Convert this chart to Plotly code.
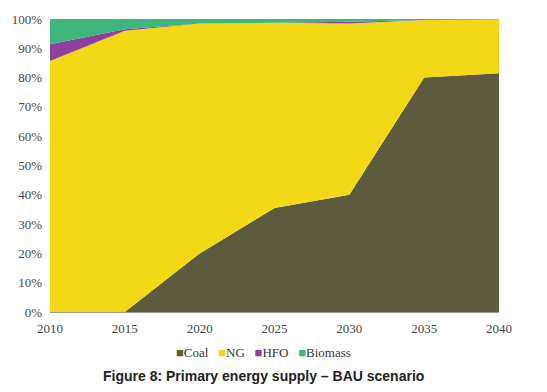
import plotly.graph_objects as go

years = [2010, 2015, 2020, 2025, 2030, 2035, 2040]
coal = [0.0, 0.0, 20.0, 35.5, 40.0, 80.0, 81.5]
ng = [85.7, 96.0, 78.5, 63.2, 58.5, 19.7, 18.3]
hfo = [5.7, 0.5, 0.0, 0.0, 0.6, 0.0, 0.0]
biomass = [8.6, 3.5, 1.5, 1.3, 0.9, 0.3, 0.2]

series_names = ["Coal", "NG", "HFO", "Biomass"]
series_values = [coal, ng, hfo, biomass]
colors = ["#5c5b3d", "#f3d915", "#8e3fa0", "#3cb67a"]

x_ticks = [2010, 2015, 2020, 2025, 2030, 2035, 2040]
y_ticks = [0, 10, 20, 30, 40, 50, 60, 70, 80, 90, 100]
y_tick_labels = [f"{v}%" for v in y_ticks]
title_text = "Figure 8: Primary energy supply – BAU scenario"

fig = go.Figure()
for name, vals, col in zip(series_names, series_values, colors):
    fig.add_trace(go.Scatter(
        x=years, y=vals, name=name, stackgroup="one", mode="none",
        fill="tonexty", fillcolor=col, line=dict(width=0), showlegend=False,
        hoverinfo="x+y+name"))

legend_html = "&nbsp;&nbsp;&nbsp;".join(
    f'<span style="color:{c}">■</span>{n}' for n, c in zip(series_names, colors))

fig.update_layout(
    width=547, height=392,
    margin=dict(l=48, r=48, t=12, b=80),
    paper_bgcolor="white", plot_bgcolor="white",
    showlegend=False,
    font=dict(family="Liberation Serif", size=12, color="#333"),
    xaxis=dict(range=[2010, 2040], tickvals=x_ticks, ticktext=[str(t) for t in x_ticks],
               showgrid=False, zeroline=False, showline=True, linecolor="#9a9a9a",
               linewidth=1, ticks="", ticklabelstandoff=4,
               tickfont=dict(family="Liberation Serif", size=13, color="#444")),
    yaxis=dict(range=[0, 100], tickvals=y_ticks, ticktext=y_tick_labels,
               showgrid=False, zeroline=False, showline=False, ticks="",
               ticklabelstandoff=7,
               tickfont=dict(family="Liberation Serif", size=13, color="#444")),
    annotations=[
        dict(text=legend_html, xref="paper", yref="paper", x=0.475, xanchor="center",
             y=-0.137, yanchor="middle", showarrow=False,
             font=dict(family="Liberation Serif", size=13, color="#333")),
        dict(text=f"<b>{title_text}</b>",
             xref="paper", yref="paper", x=0.475, xanchor="center",
             y=-0.218, yanchor="middle", showarrow=False,
             font=dict(family="Liberation Sans", size=14, color="#222"))],
)

fig.write_html("out.html", config={"displayModeBar": False})
with open("out.html", "r", encoding="utf-8") as f:
    html = f.read()
html = html.replace("<body>", '<body style="margin:0;padding:0;overflow:hidden">', 1)
with open("out.html", "w", encoding="utf-8") as f:
    f.write(html)
